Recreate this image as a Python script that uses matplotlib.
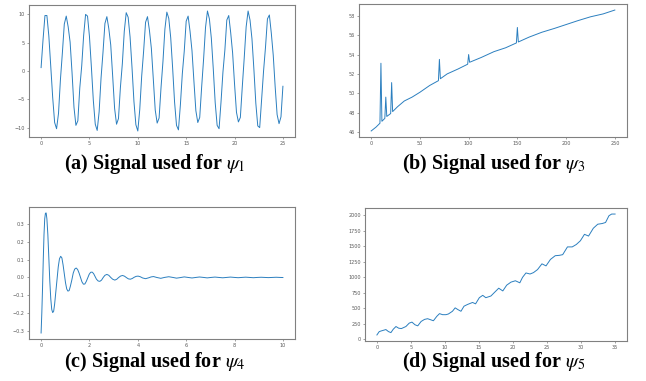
import numpy as np
import matplotlib
matplotlib.use("Agg")
from matplotlib import pyplot as plt

# (a) periodic signal, sampled every 0.2 from t=0 to t=25
a_dt = 0.2
a_vals = [0.6, 5.5, 9.8, 9.8, 6.2, 0.8, -4.7, -9.1, -10.2, -7.5,
          -1.5, 3.2, 8.3, 9.7, 7.8, 5.1, -0.3, -6.4, -9.6, -8.8,
          -3.0, 0.9, 6.3, 10.0, 9.7, 6.1, 0.7, -5.2, -9.4, -10.5,
          -7.2, -1.2, 3.3, 8.4, 9.6, 7.5, 4.6, -0.9, -6.6, -9.4,
          -8.4, -2.9, 1.3, 7.0, 10.3, 9.5, 6.0, 0.6, -5.4, -9.5,
          -10.6, -6.8, -0.9, 3.5, 8.6, 9.6, 7.2, 4.0, -1.4, -6.9,
          -9.2, -8.3, -2.9, 1.7, 7.4, 10.4, 9.3, 5.9, 0.5, -5.5,
          -9.6, -10.4, -6.0, -0.5, 3.5, 8.8, 9.7, 7.0, 3.6, -1.8,
          -7.0, -9.1, -8.2, -2.8, 2.1, 7.7, 10.6, 9.2, 5.8, 0.4,
          -5.6, -9.6, -10.2, -5.5, -0.2, 3.7, 9.0, 9.8, 6.8, 3.2,
          -2.3, -7.3, -9.0, -8.2, -2.8, 2.3, 7.8, 10.6, 9.0, 5.7,
          0.3, -5.7, -9.7, -10.0, -5.0, 0.0, 4.2, 9.2, 9.9, 6.7,
          2.8, -2.8, -7.7, -9.3, -8.1, -2.7]

# (b) slowly rising signal with spikes
b_t = [0, 5, 9, 10, 11, 14, 15, 16, 20, 21, 22, 27, 34, 42, 50, 60, 69, 70, 71,
       78, 89, 99, 100, 101, 113, 126, 138, 149, 150, 151, 162, 175, 188, 200,
       212, 225, 238, 250]
b_vals = [46.1, 46.5, 46.9, 53.1, 47.1, 47.4, 49.6, 47.6, 47.9, 51.1, 48.1, 48.6,
          49.2, 49.6, 50.1, 50.8, 51.3, 53.5, 51.5, 52.0, 52.5, 53.0, 54.0, 53.2,
          53.7, 54.3, 54.7, 55.2, 56.8, 55.3, 55.8, 56.3, 56.7, 57.1, 57.5, 57.9,
          58.2, 58.6]

# (c) damped oscillation
c_t = [0.00, 0.03, 0.06, 0.09, 0.12, 0.15, 0.18, 0.21, 0.24, 0.28, 0.32, 0.36,
       0.40, 0.44, 0.48, 0.52, 0.56, 0.61, 0.66, 0.71, 0.76, 0.81, 0.86, 0.91,
       0.96, 1.01, 1.06, 1.11, 1.16, 1.21, 1.27, 1.33, 1.39, 1.45, 1.51, 1.57,
       1.63, 1.69, 1.75, 1.81, 1.87, 1.93, 1.99, 2.05, 2.11, 2.17, 2.23, 2.29,
       2.36, 2.43, 2.50, 2.57, 2.64, 2.72, 2.80, 2.88, 2.96, 3.05, 3.13, 3.21,
       3.29, 3.37, 3.45, 3.53, 3.61, 3.69, 3.77, 3.85, 3.93, 4.01, 4.10, 4.20,
       4.32, 4.45, 4.55, 4.65, 4.78, 4.95, 5.10, 5.28, 5.45, 5.60, 5.75, 5.92,
       6.08, 6.24, 6.40, 6.55, 6.72, 6.87, 7.03, 7.19, 7.35, 7.51, 7.67, 7.83,
       8.00, 8.15, 8.30, 8.46, 8.62, 8.78, 8.94, 9.10, 9.25, 9.40, 9.56, 9.72,
       9.88, 10.0]
c_vals = [-0.313, -0.20, -0.06, 0.10, 0.24, 0.33, 0.362, 0.363, 0.33, 0.24, 0.11, -0.02,
          -0.12, -0.18, -0.198, -0.19, -0.15, -0.08, -0.01, 0.06, 0.105, 0.119, 0.11, 0.07,
          0.02, -0.03, -0.065, -0.077, -0.074, -0.05, -0.015, 0.025, 0.047, 0.053, 0.045, 0.025,
          0.0, -0.025, -0.038, -0.037, -0.022, -0.002, 0.018, 0.029, 0.030, 0.022, 0.006, -0.010,
          -0.020, -0.022, -0.015, 0.0, 0.012, 0.017, 0.012, 0.0, -0.010, -0.015, -0.010, 0.0,
          0.008, 0.011, 0.007, -0.001, -0.008, -0.010, -0.006, 0.001, 0.006, 0.0075, 0.004, -0.003,
          -0.007, -0.002, 0.003, 0.005, 0.0, -0.005, 0.0, 0.004, 0.0, -0.004, -0.001, 0.003,
          0.0, -0.003, 0.0, 0.0025, 0.0, -0.0025, 0.0, 0.002, 0.0, -0.002, 0.0, 0.002,
          0.0, -0.0015, 0.0, 0.0015, 0.0, -0.0015, 0.0, 0.001, 0.0, -0.001, 0.0, 0.001,
          0.0, -0.0005]

# (d) growing signal with ripple
d_t = [0, 0.34, 0.64, 1.32, 1.7, 2.06, 2.4, 2.8, 3.2, 3.6, 4.26, 4.75, 5.15, 5.6,
       6.0, 6.5, 7.0, 7.45, 7.9, 8.3, 8.8, 9.2, 9.65, 10.15, 10.5, 11.1, 11.5,
       11.9, 12.35, 12.8, 13.3, 14.05, 14.5, 15.05, 15.55, 16.0, 16.75, 17.25,
       17.9, 18.5, 19.07, 19.7, 20.35, 21.0, 21.4, 21.9, 22.5, 23.0, 23.6, 24.25,
       24.85, 25.5, 26.2, 26.8, 27.3, 28.0, 28.7, 29.3, 29.9, 30.5, 31.1, 31.8,
       32.45, 33.1, 33.6, 34.1, 34.5, 35.0]
d_vals = [66, 120, 131, 153, 120, 104, 158, 202, 175, 169, 202, 257, 273, 230,
          213, 284, 317, 328, 311, 295, 366, 410, 393, 393, 404, 448, 503,
          475, 448, 530, 557, 590, 568, 667, 705, 667, 694, 749,
          820, 776, 869, 918, 940, 907, 995, 1066, 1049, 1071, 1120, 1213,
          1180, 1284, 1344, 1350, 1361, 1486, 1486, 1525, 1585, 1689, 1661, 1787,
          1852, 1863, 1880, 1989, 2016, 2016]

captions = [r"(a) Signal used for $\psi_1$", r"(b) Signal used for $\psi_3$",
            r"(c) Signal used for $\psi_4$", r"(d) Signal used for $\psi_5$"]

plt.rcParams['mathtext.fontset'] = 'stix'

W, H = 646, 381
fig = plt.figure(figsize=(W / 100, H / 100), dpi=100)


def px_axes(left, right, top, bottom):
    return fig.add_axes([left / W, (H - bottom) / H, (right - left) / W, (bottom - top) / H])


def style(ax):
    for s in ax.spines.values():
        s.set_color('0.5')
        s.set_linewidth(0.8)
    ax.tick_params(labelsize=3.5, colors='0.35', length=1.5, width=0.4, pad=1.5)


ax_a = px_axes(29, 295, 5, 137)
ax_b = px_axes(359, 627, 4, 137)
ax_c = px_axes(29, 295, 207, 339)
ax_d = px_axes(365, 627, 208, 341)

line_kw = dict(color='#2b7fbf', lw=0.7)

a_t = np.arange(len(a_vals)) * a_dt
ax_a.plot(a_t, a_vals, **line_kw)
ax_a.set_xticks([0, 5, 10, 15, 20, 25])
ax_a.set_yticks([-10, -5, 0, 5, 10])

ax_b.plot(b_t, b_vals, **line_kw)
ax_b.set_xticks([0, 50, 100, 150, 200, 250])
ax_b.set_yticks([46, 48, 50, 52, 54, 56, 58])

ax_c.plot(c_t, c_vals, **line_kw)
ax_c.set_xticks([0, 2, 4, 6, 8, 10])
ax_c.set_yticks([-0.3, -0.2, -0.1, 0.0, 0.1, 0.2, 0.3])

ax_d.plot(d_t, d_vals, **line_kw)
ax_d.set_xticks([0, 5, 10, 15, 20, 25, 30, 35])
ax_d.set_yticks([0, 250, 500, 750, 1000, 1250, 1500, 1750, 2000])

for ax in (ax_a, ax_b, ax_c, ax_d):
    style(ax)

cap_pos = [(155, 164), (494, 164), (155, 362), (494, 362)]
for (cx, cy), txt in zip(cap_pos, captions):
    fig.text(cx / W, 1 - cy / H, txt, ha='center', va='center',
             fontsize=14.5, fontweight='bold', family='Liberation Serif')

fig.savefig('out.png', dpi=100)
